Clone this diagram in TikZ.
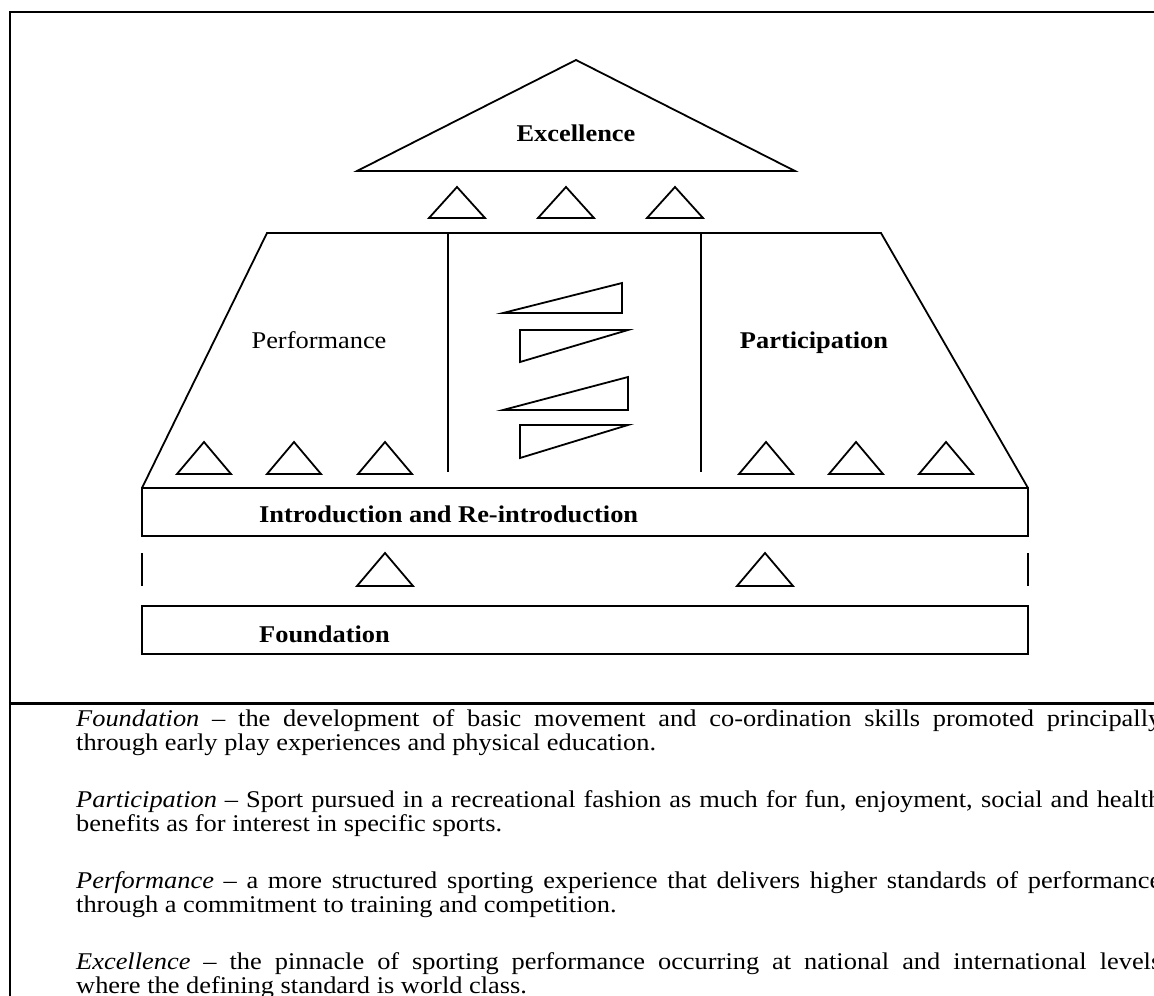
\documentclass[tikz,border=0pt]{standalone}
\usepackage{fontspec}
\setmainfont{Liberation Serif}[FakeStretch=1.1]
\begin{document}
\begin{tikzpicture}[x=1pt,y=-1pt,
  shp/.style={draw,line width=1.8pt,line join=miter},
  every node/.style={inner sep=0pt,font=\fontsize{24}{24}\selectfont},
  lbl/.style={anchor=base},
  lblw/.style={anchor=base west,font=\fontsize{24}{24}\selectfont\bfseries},
  txt/.style={anchor=base west}]
\useasboundingbox (0,0) rectangle (1154,996);
\clip (0,0) rectangle (1154,996);
% frame
\draw[line width=2.4pt] (1170,12) -- (10,12) -- (10,1010);
\draw[line width=3pt] (10,703) -- (1170,703);
% excellence
\draw[shp] (357,171) -- (576,60) -- (795,171) -- cycle;
\node[lbl,font=\fontsize{24}{24}\selectfont\bfseries] (exc) at (576,141) {Excellence};
\foreach \cx in {457,566,675}
  \draw[shp] (\cx-28,218) -- (\cx,187) -- (\cx+28,218) -- cycle;
% trapezoid
\draw[shp] (142,488) -- (267,233) -- (881,233) -- (1028,488);
\draw[shp] (448,233) -- (448,472);
\draw[shp] (701,233) -- (701,472);
\node[lbl] (perf) at (319,348) {Performance};
\node[lbl,font=\fontsize{24}{24}\selectfont\bfseries] (part) at (814,348) {Participation};
\foreach \cx in {204,294,385,766,856,946}
  \draw[shp] (\cx-27,474) -- (\cx,442) -- (\cx+27,474) -- cycle;
% wedges
\draw[shp] (503,313) -- (622,283) -- (622,313) -- cycle;
\draw[shp] (520,330) -- (628,330) -- (520,362) -- cycle;
\draw[shp] (503,410) -- (628,377) -- (628,410) -- cycle;
\draw[shp] (520,425) -- (628,425) -- (520,458) -- cycle;
% introduction box
\draw[shp] (142,488) rectangle (1028,536);
\node[lblw] (intro) at (259,522) {Introduction and Re-introduction};
\draw[shp] (142,553) -- (142,586);
\draw[shp] (1028,553) -- (1028,586);
\foreach \cx in {385,765}
  \draw[shp] (\cx-28,586) -- (\cx,553) -- (\cx+28,586) -- cycle;
% foundation box
\draw[shp] (142,606) rectangle (1028,654);
\node[lblw] (found) at (259,642) {Foundation};
% text
\node[txt] (t1) at (76,726) {\makebox[1085pt][s]{\textit{Foundation} – the development of basic movement and co-ordination skills promoted principally}};
\node[txt] (t2) at (76,750) {through early play experiences and physical education.};
\node[txt] (t3) at (76,807) {\makebox[1085pt][s]{\textit{Participation} – Sport pursued in a recreational fashion as much for fun, enjoyment, social and health}};
\node[txt] (t4) at (76,831) {benefits as for interest in specific sports.};
\node[txt] (t5) at (76,888) {\makebox[1085pt][s]{\textit{Performance} – a more structured sporting experience that delivers higher standards of performance}};
\node[txt] (t6) at (76,912) {through a commitment to training and competition.};
\node[txt] (t7) at (76,969) {\makebox[1085pt][s]{\textit{Excellence} – the pinnacle of sporting performance occurring at national and international levels}};
\node[txt] (t8) at (76,993) {where the defining standard is world class.};
\end{tikzpicture}
\end{document}
